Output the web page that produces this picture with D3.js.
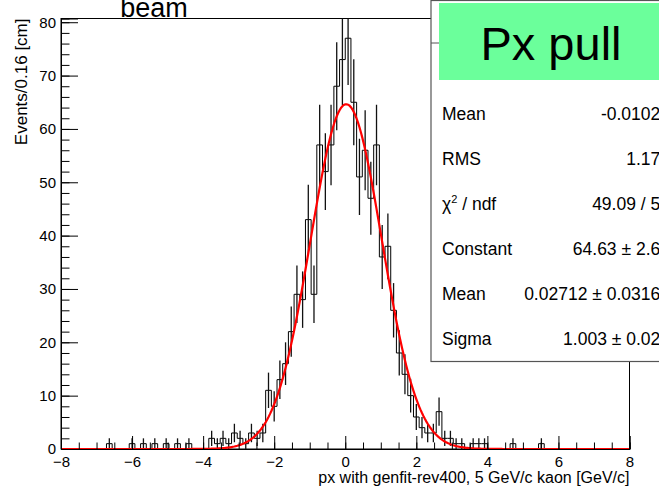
<!DOCTYPE html>
<html>
<head>
<meta charset="utf-8">
<script src="https://cdn.jsdelivr.net/npm/d3@7"></script>
<style>
  body { margin: 0; background: #fff; }
  svg { display: block; font-family: "Liberation Sans", Arial, sans-serif; }
</style>
</head>
<body>
<svg width="659" height="491"></svg>
<script>
// histogram: 100 bins from -8 to 8 (0.16 wide)
const binLow = -8, binWidth = 0.16;
const counts = [
  0,0,0,0,0,0,0,0,1,0,
  0,0,1,0,1,0,1,0,1,0,
  1,0,1,0,0,0,2,1,2,1,
  3,2,1,3,2,3,11,8,13,16,
  22,29,28,43,29,57,52,57,68,73,
  77,65,51,56,47,57,36,38,26,18,
  14,10,6,4,3,3,7,2,2,1,
  1,0,1,1,1,0,0,0,0,1,
  0,0,0,0,1,0,0,0,0,0,
  0,0,0,0,0,0,0,0,0,0
];
// gaus fit: constant, mean, sigma
const fitParams = [64.63, 0.02712, 1.003];

const xMajor = [-8, -6, -4, -2, 0, 2, 4, 6, 8];
const xMinor = d3.range(-8, 8.01, 0.5);
const yMajor = [0, 10, 20, 30, 40, 50, 60, 70, 80];
const yMinor = d3.range(0, 80.1, 2);

const statLabels = ["Mean", "RMS", "chi", "Constant", "Mean", "Sigma"];
const statValues = ["-0.01023", "1.173", "49.09 / 57", "64.63 \u00b1 2.62", "0.02712 \u00b1 0.03160", "1.003 \u00b1 0.024"];

const svg = d3.select("svg");
const fLeft = 61, fRight = 629.5, fTop = 18.5, fBottom = 449;

const x = d3.scaleLinear().domain([-8, 8]).range([fLeft, fRight]);
const y = d3.scaleLinear().domain([0, 80.7]).range([fBottom, fTop]);

svg.append("defs").append("clipPath").attr("id", "frame")
  .append("rect").attr("x", fLeft).attr("y", fTop)
  .attr("width", fRight - fLeft).attr("height", fBottom - fTop);

// title
svg.append("text").attr("x", 154).attr("y", 16.5)
  .attr("text-anchor", "middle").style("font-size", "27px").text("beam");

// frame
svg.append("rect").attr("x", fLeft).attr("y", fTop)
  .attr("width", fRight - fLeft).attr("height", fBottom - fTop)
  .attr("fill", "none").attr("stroke", "#000").attr("stroke-width", 1);

const plot = svg.append("g").attr("clip-path", "url(#frame)");

// histogram outline
const bins = counts.map((c, i) => ({ x0: binLow + i * binWidth, x1: binLow + (i + 1) * binWidth, c: c }));
let d = "M" + x(bins[0].x0) + "," + y(0);
bins.forEach(b => { d += "L" + x(b.x0) + "," + y(b.c) + "L" + x(b.x1) + "," + y(b.c); });
d += "L" + x(8) + "," + y(0);
plot.append("path").attr("d", d).attr("fill", "none").attr("stroke", "#000").attr("stroke-width", 1);

// error bars
plot.selectAll("line.err")
  .data(bins.filter(b => b.c > 0))
  .enter()
  .append("line")
  .attr("class", "err")
  .attr("x1", b => x((b.x0 + b.x1) / 2))
  .attr("x2", b => x((b.x0 + b.x1) / 2))
  .attr("y1", b => y(b.c - Math.sqrt(b.c)))
  .attr("y2", b => y(b.c + Math.sqrt(b.c)))
  .attr("stroke", "#111").attr("stroke-width", 1.3);

// fit curve
const gaus = v => fitParams[0] * Math.exp(-0.5 * Math.pow((v - fitParams[1]) / fitParams[2], 2));
const fx = d3.range(-8, 8.0001, 0.04);
plot.append("path")
  .datum(fx)
  .attr("d", d3.line().x(v => x(v)).y(v => y(gaus(v))))
  .attr("fill", "none").attr("stroke", "#ff0000").attr("stroke-width", 2.2);

// axes
const gx = svg.append("g").attr("transform", "translate(0," + fBottom + ")");
gx.call(d3.axisBottom(x).tickValues(xMinor).tickSize(-6.5).tickFormat(""));
gx.append("g").call(d3.axisBottom(x).tickValues(xMajor).tickSize(-13).tickPadding(7).tickFormat(d3.format("d")));
const gy = svg.append("g").attr("transform", "translate(" + fLeft + ",0)");
gy.call(d3.axisLeft(y).tickValues(yMinor).tickSize(-8.5).tickFormat(""));
gy.append("g").call(d3.axisLeft(y).tickValues(yMajor).tickSize(-17).tickPadding(5).tickFormat(d3.format("d")));
svg.selectAll(".domain").attr("stroke", "#000");
svg.selectAll(".tick line").attr("stroke", "#000");
svg.selectAll(".tick text").style("font-size", "15px").style("font-family", "Liberation Sans, Arial, sans-serif").attr("fill", "#000");

// axis titles
svg.append("text").attr("x", fRight).attr("y", 483)
  .attr("text-anchor", "end").style("font-size", "16px")
  .text("px with genfit-rev400, 5 GeV/c kaon [GeV/c]");
svg.append("text").attr("transform", "translate(26.5," + fTop + ") rotate(-90)")
  .attr("text-anchor", "end").style("font-size", "17px")
  .text("Events/0.16 [cm]");

// stats box
svg.append("rect").attr("x", 431).attr("y", 0.5).attr("width", 260).attr("height", 361)
  .attr("fill", "#fff").attr("stroke", "#555").attr("stroke-width", 1.2);
svg.append("line").attr("x1", 431).attr("x2", 439).attr("y1", 43).attr("y2", 43)
  .attr("stroke", "#555").attr("stroke-width", 1);
svg.append("rect").attr("x", 439).attr("y", 3).attr("width", 240).attr("height", 77)
  .attr("fill", "#6bff9b");
svg.append("text").attr("x", 551).attr("y", 60).attr("text-anchor", "middle")
  .style("font-size", "47px").text("Px pull");

statLabels.forEach((lab, i) => {
  const yy = 120 + i * 45;
  const t = svg.append("text").attr("x", 442).attr("y", yy).style("font-size", "17.5px");
  if (lab === "chi") {
    t.append("tspan").text("\u03c7");
    t.append("tspan").attr("dy", -7).style("font-size", "11px").text("2");
    t.append("tspan").attr("dy", 7).text(" / ndf");
  } else {
    t.text(lab);
  }
  svg.append("text").attr("x", 670).attr("y", yy).attr("text-anchor", "end")
    .style("font-size", "17.5px").text(statValues[i]);
});
</script>
</body>
</html>
